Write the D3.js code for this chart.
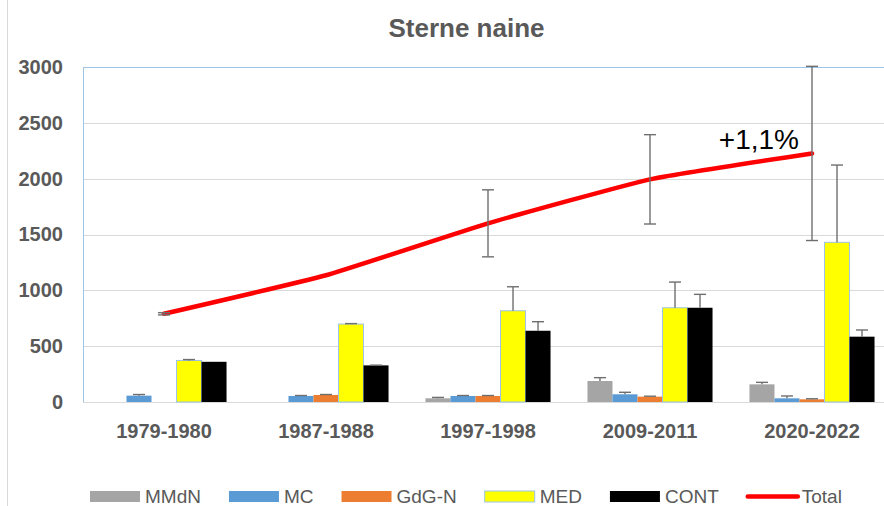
<!DOCTYPE html>
<html>
<head>
<meta charset="utf-8">
<script src="https://cdn.jsdelivr.net/npm/d3@7/dist/d3.min.js"></script>
<style>
  html, body { margin: 0; padding: 0; background: #fff; }
  svg { display: block; font-family: "Liberation Sans", Arial, sans-serif; }
</style>
</head>
<body>
<svg id="chart" width="884" height="506"></svg>
<script>
// Periods of the survey
const categories = ["1979-1980", "1987-1988", "1997-1998", "2009-2011", "2020-2022"];

// Breeding pairs per region (null = no data)
const seriesNames = ["MMdN", "MC", "GdG-N", "MED", "CONT"];
const mmdn  = [null, null, 33, 188, 158];
const mc    = [57, 54, 54, 69, 33];
const gdgn  = [null, 63, 54, 48, 24];
const med   = [372, 698, 817, 844, 1430];
const cont  = [360, 328, 638, 844, 585];

// Upper error bars for each region
const mmdnErr = [null, null, 8, 30, 18];
const mcErr   = [10, 4, 4, 18, 21];
const gdgnErr = [null, 4, 4, 4, 5];
const medErr  = [8, 4, 215, 230, 692];
const contErr = [0, 2, 81, 120, 60];

// National total with its error range
const total    = [790, 1135, 1600, 1994, 2226];
const totalErr = [10, null, 300, 400, 780];

const yTicks = [0, 500, 1000, 1500, 2000, 2500, 3000];
const trendLabel = "+1,1%";
const chartTitle = "Sterne naine";

const seriesValues = [mmdn, mc, gdgn, med, cont];
const seriesErrors = [mmdnErr, mcErr, gdgnErr, medErr, contErr];
const fills   = ["#A5A5A5", "#5B9BD5", "#ED7D31", "#FFFF00", "#000000"];
const strokes = [null, null, null, "#9DC3E6", null];

const svg = d3.select("#chart");
const textGrey = "#595959";

const plot = { left: 83, right: 893, top: 67, bottom: 402 };

const x0 = d3.scaleBand()
  .domain(categories)
  .range([plot.left, plot.right])
  .paddingInner(0.228)
  .paddingOuter(0.114);

const x1 = d3.scaleBand()
  .domain(seriesNames)
  .range([0, x0.bandwidth()]);

const y = d3.scaleLinear()
  .domain([0, 3000])
  .range([plot.bottom, plot.top]);

// Outer chart frame (left edge visible)
svg.append("line")
  .attr("x1", 7.5).attr("x2", 7.5)
  .attr("y1", 0).attr("y2", 506)
  .attr("stroke", "#D9D9D9").attr("stroke-width", 1);

// Title
svg.append("text")
  .attr("x", 466.5).attr("y", 36.5)
  .attr("text-anchor", "middle")
  .attr("font-size", 26).attr("font-weight", "bold")
  .attr("fill", textGrey)
  .text(chartTitle);

// Horizontal gridlines
svg.append("g")
  .selectAll("line")
  .data(yTicks.filter(t => t > 0 && t < 3000))
  .join("line")
  .attr("x1", plot.left).attr("x2", plot.right)
  .attr("y1", d => Math.round(y(d)) + 0.5)
  .attr("y2", d => Math.round(y(d)) + 0.5)
  .attr("stroke", "#D9D9D9").attr("stroke-width", 1);

// Plot area border
svg.append("rect")
  .attr("x", plot.left + 0.5).attr("y", plot.top + 0.5)
  .attr("width", plot.right - plot.left).attr("height", plot.bottom - plot.top)
  .attr("fill", "none")
  .attr("stroke", "#9DC3E6").attr("stroke-width", 1);

// Category axis line
svg.append("line")
  .attr("x1", plot.left).attr("x2", plot.right)
  .attr("y1", plot.bottom + 0.5).attr("y2", plot.bottom + 0.5)
  .attr("stroke", "#D9D9D9").attr("stroke-width", 1);

// Y axis labels
const yAxis = svg.append("g")
  .attr("transform", `translate(${plot.left},0)`)
  .call(d3.axisLeft(y).tickValues(yTicks).tickSize(0).tickPadding(20).tickFormat(d3.format("d")));
yAxis.select(".domain").remove();
yAxis.selectAll("text")
  .attr("font-family", "Liberation Sans, Arial, sans-serif")
  .attr("font-size", 20).attr("font-weight", "bold")
  .attr("fill", textGrey);

// X axis labels
const xAxis = svg.append("g")
  .attr("transform", `translate(0,${plot.bottom})`)
  .call(d3.axisBottom(x0).tickSize(0).tickPadding(22));
xAxis.select(".domain").remove();
xAxis.selectAll("text")
  .attr("font-family", "Liberation Sans, Arial, sans-serif")
  .attr("font-size", 20).attr("font-weight", "bold")
  .attr("fill", textGrey);

// Bars
const barData = [];
categories.forEach((c, i) => {
  seriesNames.forEach((s, j) => {
    const v = seriesValues[j][i];
    if (v != null) barData.push({ cat: c, series: s, j, value: v, err: seriesErrors[j][i] });
  });
});

svg.append("g")
  .selectAll("rect")
  .data(barData)
  .join("rect")
  .attr("x", d => x0(d.cat) + x1(d.series))
  .attr("y", d => y(d.value))
  .attr("width", x1.bandwidth())
  .attr("height", d => y(0) - y(d.value))
  .attr("fill", d => fills[d.j])
  .attr("stroke", d => strokes[d.j] || "none")
  .attr("stroke-width", 1);

// Upper error bars on the regional bars
const errColor = "#6F6F6F";
const capHalf = 6;
const barErr = svg.append("g")
  .selectAll("g")
  .data(barData.filter(d => d.err))
  .join("g")
  .attr("stroke", errColor).attr("stroke-width", 1.4);
barErr.append("line")
  .attr("x1", d => x0(d.cat) + x1(d.series) + x1.bandwidth() / 2)
  .attr("x2", d => x0(d.cat) + x1(d.series) + x1.bandwidth() / 2)
  .attr("y1", d => y(d.value))
  .attr("y2", d => y(d.value + d.err));
barErr.append("line")
  .attr("x1", d => x0(d.cat) + x1(d.series) + x1.bandwidth() / 2 - capHalf)
  .attr("x2", d => x0(d.cat) + x1(d.series) + x1.bandwidth() / 2 + capHalf)
  .attr("y1", d => y(d.value + d.err))
  .attr("y2", d => y(d.value + d.err));

// Total: lightly smoothed line
const totalData = categories.map((c, i) => ({ cat: c, value: total[i], err: totalErr[i] }));
const cx = d => x0(d.cat) + x0.bandwidth() / 2;

svg.append("path")
  .datum(totalData)
  .attr("fill", "none")
  .attr("stroke", "#FF0000")
  .attr("stroke-width", 4.5)
  .attr("stroke-linecap", "round")
  .attr("d", d3.line().x(cx).y(d => y(d.value)).curve(d3.curveCardinal.tension(0.6)));

// Total error bars (both directions)
const totErr = svg.append("g")
  .selectAll("g")
  .data(totalData.filter(d => d.err))
  .join("g")
  .attr("stroke", errColor).attr("stroke-width", 1.4);
totErr.append("line")
  .attr("x1", cx).attr("x2", cx)
  .attr("y1", d => y(d.value - d.err))
  .attr("y2", d => y(d.value + d.err));
totErr.selectAll(".cap")
  .data(d => [d.value - d.err, d.value + d.err].map(v => ({ x: cx(d), v })))
  .join("line")
  .attr("class", "cap")
  .attr("x1", d => d.x - capHalf).attr("x2", d => d.x + capHalf)
  .attr("y1", d => y(d.v)).attr("y2", d => y(d.v));

// Trend annotation next to the last total point
const last = totalData[totalData.length - 1];
svg.append("text")
  .attr("x", cx(last) - 13)
  .attr("y", y(last.value) - 4)
  .attr("text-anchor", "end")
  .attr("font-size", 28)
  .attr("fill", "#000")
  .text(trendLabel);

// Legend
const legendItems = seriesNames.map((s, j) => ({ name: s, type: "bar", j }))
  .concat([{ name: "Total", type: "line" }]);
const legend = svg.append("g").attr("font-size", 19).attr("fill", textGrey);
let lx = 90;
legendItems.forEach(item => {
  const g = legend.append("g").attr("transform", `translate(${lx},0)`);
  if (item.type === "bar") {
    g.append("rect")
      .attr("x", 0).attr("y", 491).attr("width", 50).attr("height", 11)
      .attr("fill", fills[item.j])
      .attr("stroke", strokes[item.j] || "none");
  } else {
    g.append("line")
      .attr("x1", 1).attr("x2", 51).attr("y1", 496.5).attr("y2", 496.5)
      .attr("stroke", "#FF0000").attr("stroke-width", 4.5)
      .attr("stroke-linecap", "round");
  }
  const t = g.append("text")
    .attr("x", 55).attr("y", 503)
    .text(item.name);
  lx += 55 + t.node().getComputedTextLength() + 28;
});
</script>
</body>
</html>
